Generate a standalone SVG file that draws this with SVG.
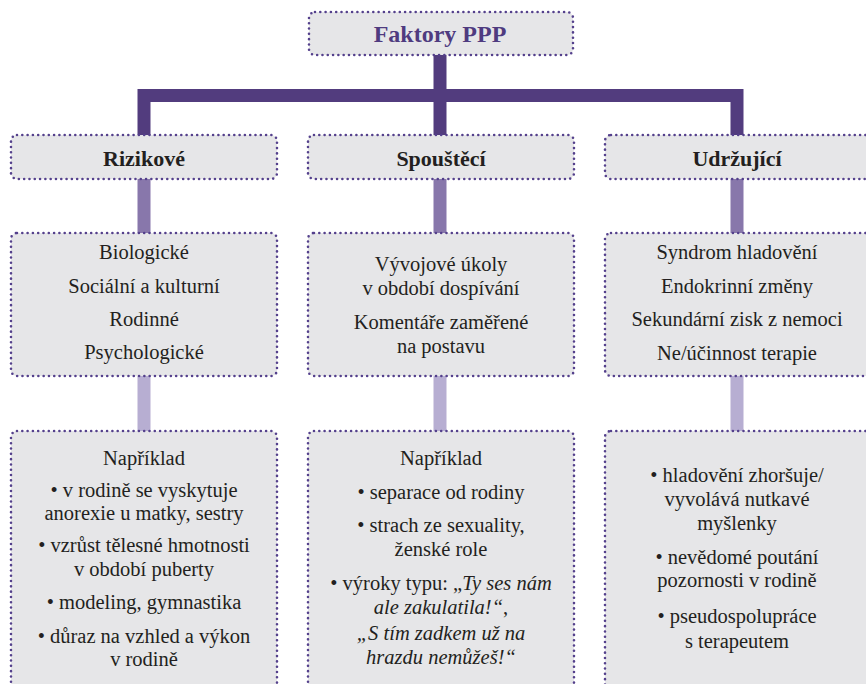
<svg xmlns="http://www.w3.org/2000/svg" width="866" height="684" viewBox="0 0 866 684" font-family="Liberation Serif, DejaVu Serif, serif">
<style>
.box{fill:#e6e6e8;stroke:#54408c;stroke-width:2.6;stroke-dasharray:0 5.3;stroke-linecap:round}
.t{font-size:20.5px;fill:#231f20;text-anchor:middle}
.h{font-size:22px;font-weight:bold;fill:#231f20;text-anchor:middle}
.title{font-size:24px;font-weight:bold;fill:#4f3b80;text-anchor:middle}
.c1{stroke:#523c7e;stroke-width:13;fill:none}
.c2{stroke:#8877ab;stroke-width:13;fill:none}
.c3{stroke:#b7aed2;stroke-width:13;fill:none}
.i{font-style:italic}
</style>
<rect width="866" height="684" fill="#ffffff"/>
<g id="connectors">
<path class="c1" d="M440 55 V135 M144 135 V95.5 H737 V135"/>
<path class="c2" d="M144 179 V233 M440 179 V233 M737 179 V233"/>
<path class="c3" d="M144 376 V431 M440 376 V431 M737 376 V431"/>
</g>
<g id="faktory">
<rect class="box" x="309" y="12" width="264" height="43" rx="6"/>
<text class="title" x="440" y="42">Faktory PPP</text>
</g>
<g id="rizikove">
<rect class="box" x="11" y="135" width="266" height="44" rx="6"/>
<text class="h" x="144" y="166">Rizikové</text>
</g>
<g id="spousteci">
<rect class="box" x="308" y="135" width="266" height="44" rx="6"/>
<text class="h" x="441" y="166">Spouštěcí</text>
</g>
<g id="udrzujici">
<rect class="box" x="605" y="135" width="270" height="44" rx="6"/>
<text class="h" x="737" y="166">Udržující</text>
</g>
<g id="rizikove-typy">
<rect class="box" x="11" y="233" width="266" height="143" rx="6"/>
<text class="t" x="144" y="259">Biologické</text>
<text class="t" x="144" y="293">Sociální a kulturní</text>
<text class="t" x="144" y="326">Rodinné</text>
<text class="t" x="144" y="359">Psychologické</text>
</g>
<g id="spousteci-typy">
<rect class="box" x="308" y="233" width="266" height="143" rx="6"/>
<text class="t" x="441" y="271">Vývojové úkoly</text>
<text class="t" x="441" y="295">v období dospívání</text>
<text class="t" x="441" y="329">Komentáře zaměřené</text>
<text class="t" x="441" y="353">na postavu</text>
</g>
<g id="udrzujici-typy">
<rect class="box" x="605" y="233" width="270" height="143" rx="6"/>
<text class="t" x="737" y="259">Syndrom hladovění</text>
<text class="t" x="737" y="293">Endokrinní změny</text>
<text class="t" x="737" y="326">Sekundární zisk z nemoci</text>
<text class="t" x="737" y="360">Ne/účinnost terapie</text>
</g>
<g id="rizikove-priklady">
<rect class="box" x="11" y="431" width="266" height="280" rx="6"/>
<text class="t" x="144" y="465">Například</text>
<text class="t" x="144" y="497">• v rodině se vyskytuje</text>
<text class="t" x="144" y="520">anorexie u matky, sestry</text>
<text class="t" x="144" y="552">• vzrůst tělesné hmotnosti</text>
<text class="t" x="144" y="576">v období puberty</text>
<text class="t" x="144" y="609">• modeling, gymnastika</text>
<text class="t" x="144" y="643">• důraz na vzhled a výkon</text>
<text class="t" x="144" y="666">v rodině</text>
</g>
<g id="spousteci-priklady">
<rect class="box" x="308" y="431" width="266" height="280" rx="6"/>
<text class="t" x="441" y="465">Například</text>
<text class="t" x="441" y="499">• separace od rodiny</text>
<text class="t" x="441" y="532">• strach ze sexuality,</text>
<text class="t" x="441" y="556">ženské role</text>
<text class="t" x="441" y="590">• výroky typu: „<tspan class="i">Ty ses nám</tspan></text>
<text class="t" x="441" y="614"><tspan class="i">ale zakulatila!“</tspan>,</text>
<text class="t i" x="441" y="640">„S tím zadkem už na</text>
<text class="t i" x="441" y="664">hrazdu nemůžeš!“</text>
</g>
<g id="udrzujici-priklady">
<rect class="box" x="605" y="431" width="270" height="280" rx="6"/>
<text class="t" x="737" y="482">• hladovění zhoršuje/</text>
<text class="t" x="737" y="506">vyvolává nutkavé</text>
<text class="t" x="737" y="530">myšlenky</text>
<text class="t" x="737" y="564">• nevědomé poutání</text>
<text class="t" x="737" y="587">pozornosti v rodině</text>
<text class="t" x="737" y="623">• pseudospolupráce</text>
<text class="t" x="737" y="648">s terapeutem</text>
</g>
</svg>
